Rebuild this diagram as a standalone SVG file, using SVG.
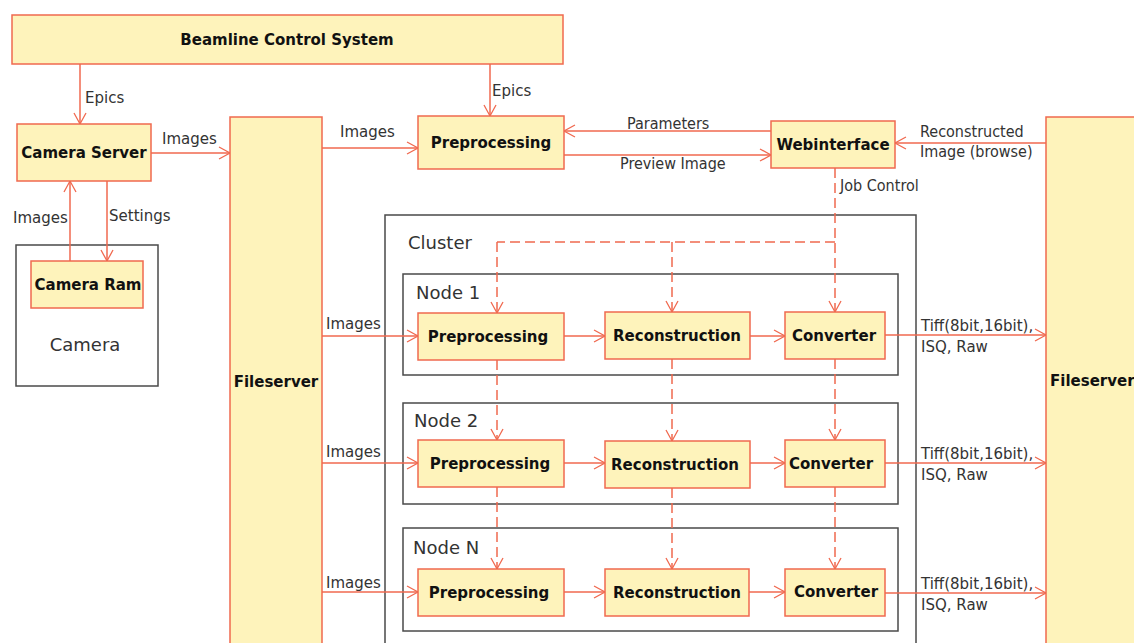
<svg xmlns="http://www.w3.org/2000/svg" width="1134" height="643" viewBox="0 0 1134 643">
  <defs>
    <marker id="arr" markerUnits="userSpaceOnUse" markerWidth="14" markerHeight="14" viewBox="0 0 14 14" refX="12" refY="7" orient="auto">
      <path d="M1,1 L12,7 L1,13" fill="none" stroke="#f0694f" stroke-width="1.3"/>
    </marker>
  </defs>
  <style>
    .box { fill: #fef3bb; stroke: #f0694f; stroke-width: 1.5; }
    .frame { fill: none; stroke: #4a4a4a; stroke-width: 1.5; }
    .t { font-family: "DejaVu Sans", sans-serif; font-weight: bold; font-size: 15px; fill: #111; text-anchor: middle; }
    .ts { text-anchor: start; }
    .lbl { font-family: "DejaVu Sans", sans-serif; font-size: 15px; fill: #333; }
    .cnd { font-family: "DejaVu Sans Condensed", "DejaVu Sans", sans-serif; font-stretch: condensed; font-size: 16px; fill: #333; }
    .ttl { font-family: "DejaVu Sans", sans-serif; font-size: 18px; fill: #333; }
    .c { fill: none; stroke: #f0694f; stroke-width: 1.5; }
    .a { marker-end: url(#arr); }
    .d { stroke-dasharray: 10 5; }
  </style>

  <rect width="1134" height="643" fill="#ffffff"/>

  <!-- containers -->
  <g id="camera">
    <rect class="frame" x="16" y="245" width="142" height="141"/>
    <text class="ttl" x="85" y="351" text-anchor="middle" font-size="15.5">Camera</text>
  </g>
  <g id="cluster">
    <rect class="frame" x="385" y="215" width="531" height="440"/>
    <text class="ttl" x="408" y="249" font-size="21">Cluster</text>
  </g>
  <g id="node1">
    <rect class="frame" x="403" y="274" width="495" height="101"/>
    <text class="ttl" x="416" y="299">Node 1</text>
  </g>
  <g id="node2">
    <rect class="frame" x="403" y="403" width="495" height="101"/>
    <text class="ttl" x="414" y="427">Node 2</text>
  </g>
  <g id="nodeN">
    <rect class="frame" x="403" y="528" width="495" height="103"/>
    <text class="ttl" x="413" y="554">Node N</text>
  </g>

  <!-- connectors -->
  <g id="connectors">
    <line class="c a" x1="80" y1="64" x2="80" y2="124"/>
    <line class="c a" x1="490" y1="64" x2="490" y2="116"/>
    <line class="c a" x1="151" y1="153" x2="230" y2="153"/>
    <line class="c a" x1="70" y1="261" x2="70" y2="181"/>
    <line class="c a" x1="107" y1="181" x2="107" y2="261"/>
    <line class="c a" x1="322" y1="148" x2="418" y2="148"/>
    <line class="c a" x1="771" y1="131" x2="564" y2="131"/>
    <line class="c a" x1="564" y1="155" x2="771" y2="155"/>
    <line class="c a" x1="1046" y1="143" x2="895" y2="143"/>

    <!-- job control (dashed) -->
    <line class="c d a" x1="835" y1="168" x2="835" y2="312"/>
    <line class="c d" x1="835" y1="242" x2="497" y2="242"/>
    <line class="c d a" x1="497" y1="242" x2="497" y2="313"/>
    <line class="c d a" x1="672" y1="242" x2="672" y2="312"/>
    <line class="c d a" x1="497" y1="360" x2="497" y2="440"/>
    <line class="c d a" x1="672" y1="359" x2="672" y2="441"/>
    <line class="c d a" x1="835" y1="359" x2="835" y2="440"/>
    <line class="c d a" x1="497" y1="487" x2="497" y2="569"/>
    <line class="c d a" x1="672" y1="488" x2="672" y2="569"/>
    <line class="c d a" x1="835" y1="487" x2="835" y2="569"/>

    <!-- image flow per node -->
    <line class="c a" x1="322" y1="336" x2="418" y2="336"/>
    <line class="c a" x1="564" y1="336" x2="605" y2="336"/>
    <line class="c a" x1="750" y1="336" x2="785" y2="336"/>
    <line class="c a" x1="885" y1="335" x2="1046" y2="335"/>

    <line class="c a" x1="322" y1="463" x2="418" y2="463"/>
    <line class="c a" x1="564" y1="463" x2="605" y2="463"/>
    <line class="c a" x1="750" y1="463" x2="785" y2="463"/>
    <line class="c a" x1="885" y1="463" x2="1046" y2="463"/>

    <line class="c a" x1="322" y1="592" x2="418" y2="592"/>
    <line class="c a" x1="564" y1="592" x2="605" y2="592"/>
    <line class="c a" x1="749" y1="592" x2="785" y2="592"/>
    <line class="c a" x1="885" y1="593" x2="1046" y2="593"/>

    <!-- labels -->
    <text class="lbl" x="85" y="103">Epics</text>
    <text class="lbl" x="492" y="96">Epics</text>
    <text class="lbl" x="162" y="144">Images</text>
    <text class="lbl" x="13" y="223">Images</text>
    <text class="lbl" x="109" y="221">Settings</text>
    <text class="lbl" x="340" y="137">Images</text>
    <text class="cnd" x="627" y="129">Parameters</text>
    <text class="cnd" x="620" y="169">Preview Image</text>
    <text class="cnd" x="920" y="137">Reconstructed</text>
    <text class="cnd" x="920" y="157">Image (browse)</text>
    <text class="cnd" x="840" y="191">Job Control</text>
    <text class="lbl" x="326" y="329">Images</text>
    <text class="lbl" x="326" y="457">Images</text>
    <text class="lbl" x="326" y="588">Images</text>
    <text class="lbl" x="921" y="331">Tiff(8bit,16bit),</text>
    <text class="lbl" x="921" y="352">ISQ, Raw</text>
    <text class="lbl" x="921" y="459">Tiff(8bit,16bit),</text>
    <text class="lbl" x="921" y="480">ISQ, Raw</text>
    <text class="lbl" x="921" y="589">Tiff(8bit,16bit),</text>
    <text class="lbl" x="921" y="610">ISQ, Raw</text>
  </g>

  <!-- nodes -->
  <g id="beamline">
    <rect class="box" x="12" y="15" width="551" height="49"/>
    <text class="t" x="287" y="45">Beamline Control System</text>
  </g>
  <g id="camera-server">
    <rect class="box" x="17" y="124" width="134" height="57"/>
    <text class="t" x="84" y="158">Camera Server</text>
  </g>
  <g id="camera-ram">
    <rect class="box" x="31" y="261" width="112" height="47"/>
    <text class="t" x="88" y="290">Camera Ram</text>
  </g>
  <g id="fileserver-in">
    <rect class="box" x="230" y="117" width="92" height="540"/>
    <text class="t" x="276" y="387" font-size="16">Fileserver</text>
  </g>
  <g id="fileserver-out">
    <rect class="box" x="1046" y="117" width="100" height="540"/>
    <text class="t ts" x="1050" y="386" font-size="14">Fileserver</text>
  </g>
  <g id="preprocessing">
    <rect class="box" x="418" y="116" width="146" height="53"/>
    <text class="t" x="491" y="148">Preprocessing</text>
  </g>
  <g id="webinterface">
    <rect class="box" x="771" y="121" width="124" height="47"/>
    <text class="t" x="833" y="150">Webinterface</text>
  </g>

  <g id="n1-pre">
    <rect class="box" x="418" y="313" width="146" height="47"/>
    <text class="t" x="488" y="342">Preprocessing</text>
  </g>
  <g id="n1-rec">
    <rect class="box" x="605" y="312" width="145" height="47"/>
    <text class="t" x="677" y="341">Reconstruction</text>
  </g>
  <g id="n1-conv">
    <rect class="box" x="785" y="312" width="100" height="47"/>
    <text class="t" x="834" y="341">Converter</text>
  </g>

  <g id="n2-pre">
    <rect class="box" x="418" y="440" width="146" height="47"/>
    <text class="t" x="490" y="469">Preprocessing</text>
  </g>
  <g id="n2-rec">
    <rect class="box" x="605" y="441" width="145" height="47"/>
    <text class="t" x="675" y="470">Reconstruction</text>
  </g>
  <g id="n2-conv">
    <rect class="box" x="785" y="440" width="100" height="47"/>
    <text class="t" x="831" y="469">Converter</text>
  </g>

  <g id="nN-pre">
    <rect class="box" x="418" y="569" width="146" height="47"/>
    <text class="t" x="489" y="598">Preprocessing</text>
  </g>
  <g id="nN-rec">
    <rect class="box" x="605" y="569" width="144" height="47"/>
    <text class="t" x="677" y="598">Reconstruction</text>
  </g>
  <g id="nN-conv">
    <rect class="box" x="785" y="569" width="100" height="47"/>
    <text class="t" x="836" y="597">Converter</text>
  </g>
</svg>
